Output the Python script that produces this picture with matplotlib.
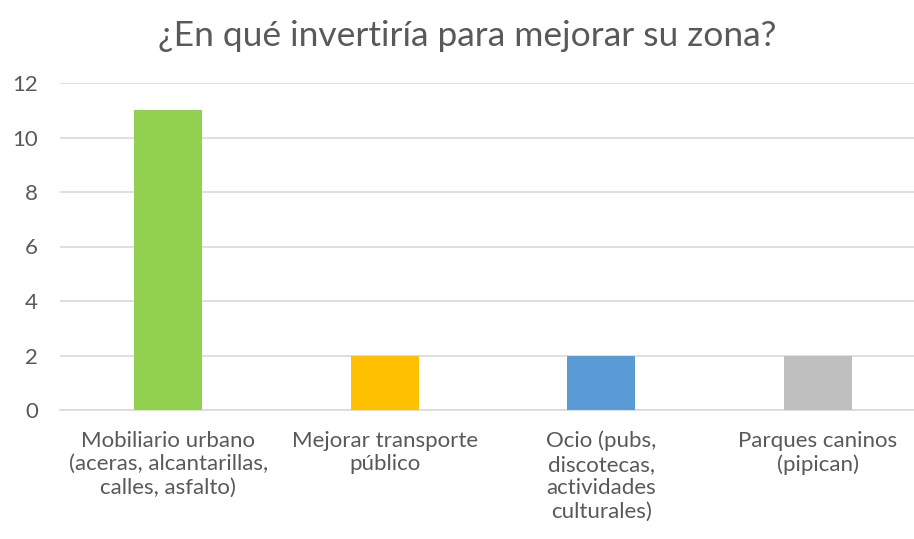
import matplotlib
matplotlib.use("Agg")
import matplotlib.pyplot as plt

# data
categorias = [
    "Mobiliario urbano\n(aceras, alcantarillas,\ncalles, asfalto)",
    "Mejorar transporte\npúblico",
    "Ocio (pubs,\ndiscotecas,\nactividades\nculturales)",
    "Parques caninos\n(pipican)",
]
valores = [11, 2, 2, 2]
colores = ["#92d050", "#ffc000", "#5b9bd5", "#bfbfbf"]
ticks_y = [0, 2, 4, 6, 8, 10, 12]
titulo = "¿En qué invertiría para mejorar su zona?"

plt.rcParams["font.family"] = ["Lato", "DejaVu Sans"]
texto = "#595959"

fig = plt.figure(figsize=(9.14, 5.39), dpi=100)
# axes placed to line up with the reference pixels
ax = fig.add_axes([60 / 914, 1 - 410 / 539, 854 / 914, (410 - 83) / 539])

x = list(range(len(valores)))
ax.bar(x, valores, width=0.315, color=colores, zorder=3)

ax.set_xlim(-0.5, -0.5 + 854 / 216.5)
ax.set_ylim(0, 12)
ax.set_yticks(ticks_y)
ax.set_xticks(x)
ax.set_xticklabels(categorias, linespacing=1.22)

ax.yaxis.grid(True, color="#d9d9d9", linewidth=1.2, zorder=0)
for s in ["top", "right", "left"]:
    ax.spines[s].set_visible(False)
ax.spines["bottom"].set_color("#d9d9d9")
ax.spines["bottom"].set_linewidth(1.2)
ax.tick_params(axis="both", length=0, colors=texto, labelsize=16)
ax.tick_params(axis="x", pad=15)
ax.tick_params(axis="y", pad=16)

fig.text(467.5 / 914, 1 - 36 / 539, titulo, ha="center", va="center",
         fontsize=25.5, color=texto)

plt.savefig("out.png", dpi=100)
